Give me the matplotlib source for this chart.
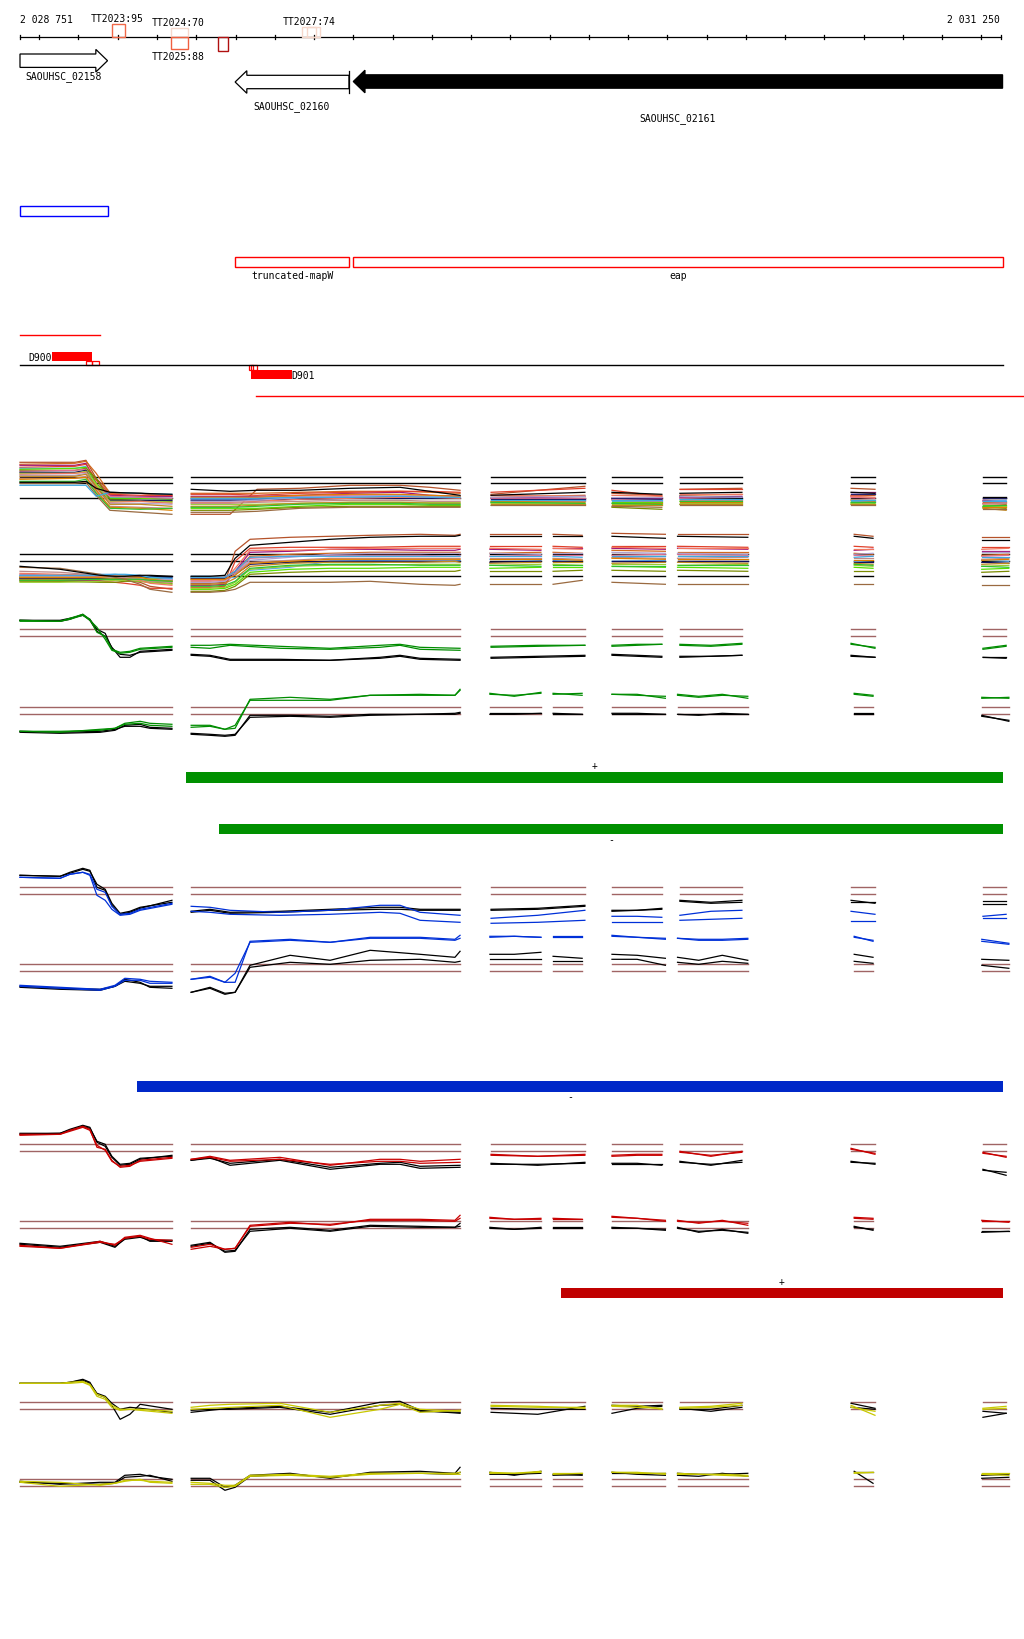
import numpy as np
import matplotlib
matplotlib.use('Agg')
import matplotlib.pyplot as plt
from matplotlib.patches import Rectangle, Polygon

# ---------------- region shown ----------------
START = 2028751
END = 2031250
TICK_POS = [START] + list(range(2028800, END, 100)) + [END]

# terminators: name, score, start, end, side, colour
TT_NAMES = ['TT2023:95', 'TT2024:70', 'TT2025:88', 'TT2027:74', 'TT2027:74', '']
TT_SCORES = [95, 70, 88, 74, 74, 100]
TT_START = [2028986, 2029136, 2029136, 2029469, 2029481, 2029255]
TT_END = [2029019, 2029178, 2029178, 2029504, 2029514, 2029280]
TT_SIDE = ['up', 'up', 'down', 'up', 'up', 'down']
TT_COLORS = ['#f06848', '#f6d8cc', '#f06040', '#f6d8cc', '#f6d8cc', '#b01010']

# genes: name, start, end, strand, filled
GENE_NAMES = ['SAOUHSC_02158', 'SAOUHSC_02160', 'SAOUHSC_02161']
GENE_START = [2028751, 2029299, 2029600]
GENE_END = [2028974, 2029589, 2031254]
GENE_STRAND = ['+', '-', '-']
GENE_FILLED = [False, False, True]

# annotation boxes
BLUE_BOX = (2028752, 2028974)
RED_BOX_NAMES = ['truncated-mapW', 'eap']
RED_BOX_START = [2029299, 2029600]
RED_BOX_END = [2029590, 2031255]

# deletions / small features
RED_LINE_TOP = (2028751, 2028954)
D900 = (2028833, 2028934)
D900_SMALL = [(2028918, 2028934), (2028934, 2028953)]
D901 = (2029339, 2029443)
D901_SMALL = [(2029335, 2029345), (2029339, 2029354)]
RED_LINE_BOTTOM = (2029352, 2031310)

# transcript bars: start, end, colour, strand
BAR_START = [2029174, 2029258, 2029049, 2030128]
BAR_END = [2031255, 2031255, 2031255, 2031255]
BAR_COLORS = ['#009000', '#009000', '#0028c8', '#c00000']
BAR_STRAND = ['+', '-', '-', '+']

# ---------------- probe knots (genomic positions) ----------------
MULTI_KNOTS_UP = {
    's1': [2028751, 2028891, 2028919, 2028945, 2028980, 2029057, 2029138],
    's2': [2029187, 2029286, 2029355, 2029464, 2029592, 2029719, 2029795, 2029872],
    's3': [2029951, 2030190],
    's4': [2030259, 2030386],
    's5': [2030432, 2030590],
    's6': [2030868, 2030929],
    's7': [2031204, 2031263],
}
MULTI_KNOTS_DN = {
    's1': [2028751, 2028853, 2028955, 2028993, 2029018, 2029057, 2029082, 2029138],
    's2': [2029187, 2029235, 2029273, 2029299, 2029337, 2029439, 2029541, 2029643, 2029770, 2029859, 2029872],
    's3a': [2029948, 2030078],
    's3b': [2030109, 2030183],
    's4': [2030259, 2030395],
    's5': [2030426, 2030605],
    's6': [2030876, 2030924],
    's7': [2031201, 2031270],
}
PAIR_KNOTS_UP = {
    's1': [2028751, 2028853, 2028878, 2028911, 2028929, 2028947, 2028968, 2028985, 2029006, 2029031, 2029057, 2029138],
    's2': [2029187, 2029235, 2029286, 2029413, 2029541, 2029668, 2029719, 2029770, 2029872],
    's3': [2029951, 2030070, 2030190],
    's4': [2030259, 2030323, 2030386],
    's5': [2030432, 2030511, 2030590],
    's6': [2030868, 2030929],
    's7': [2031204, 2031263],
}
PAIR_KNOTS_DN = {
    's1': [2028751, 2028853, 2028955, 2028993, 2029018, 2029057, 2029082, 2029138],
    's2': [2029187, 2029235, 2029273, 2029299, 2029337, 2029439, 2029541, 2029643, 2029770, 2029859, 2029872],
    's3a': [2029948, 2030010, 2030078],
    's3b': [2030109, 2030183],
    's4': [2030259, 2030323, 2030395],
    's5': [2030426, 2030480, 2030540, 2030605],
    's6': [2030876, 2030924],
    's7': [2031201, 2031270],
}

# ---------------- signal values (log ratio units) ----------------
MULTI_COLORS = ['#b5522a', '#d2691e', '#a0157a', '#e0402a', '#5aaaf0', '#55e000',
                '#7a8a00', '#e07090', '#101060', '#9acd32', '#f07860', '#b0a0d0',
                '#c08820', '#c08888', '#e08000', '#30c030', '#9a6a40', '#40a8e0']

A1_LINES = {
    's1': [[3.6, 3.6, 3.8, 2.0, 0.6, 0.5, 0.3], [3.4, 3.5, 3.7, 2.5, 0.5, 0.5, 0.2],
           [3.3, 3.3, 3.5, 1.5, 0.3, 0.2, 0.2], [3.1, 3.2, 3.4, 1.8, 0.4, 0.3, 0.3],
           [3.0, 3.0, 3.2, 1.0, 0.1, 0.1, 0.0], [2.9, 3.0, 3.1, 1.5, 0.0, 0.0, -0.1],
           [2.8, 2.8, 3.0, 2.0, -0.1, -0.2, -0.3], [2.7, 2.8, 2.9, 1.2, 0.2, 0.1, 0.0],
           [2.6, 2.6, 2.8, 1.0, -0.2, -0.2, -0.2], [2.5, 2.5, 2.7, 1.4, -0.3, -0.3, -0.4],
           [2.4, 2.5, 2.6, 1.0, -0.4, -0.3, -0.5], [2.3, 2.3, 2.5, 0.8, -0.5, -0.5, -0.6],
           [2.2, 2.2, 2.4, 1.2, -0.6, -0.6, -0.8], [2.0, 2.0, 2.2, 0.6, -0.8, -0.9, -1.0],
           [1.9, 2.0, 2.1, 0.8, -0.9, -1.0, -1.2], [1.7, 1.7, 1.9, 0.5, -1.0, -1.1, -1.0],
           [1.5, 1.5, 1.6, 0.3, -1.2, -1.4, -1.6], [1.3, 1.3, 1.3, 0.2, 0.6, 0.5, 0.4]],
    's2': [[-1.6, -1.6, 0.9, 1.0, 1.3, 1.3, 1.1, 0.8], [0.5, 0.5, 0.5, 0.6, 0.7, 0.7, 0.6, 0.5],
           [0.2, 0.2, 0.2, 0.3, 0.5, 0.6, 0.3, 0.2], [0.4, 0.4, 0.3, 0.5, 0.6, 0.7, 0.7, 0.6],
           [-0.1, -0.1, -0.1, 0.0, 0.1, 0.1, 0.0, 0.0], [-1.0, -1.0, -1.0, -0.8, -0.6, -0.6, -0.7, -0.7],
           [-1.2, -1.2, -1.1, -0.9, -0.8, -0.8, -0.8, -0.8], [0.0, 0.0, 0.1, 0.2, 0.3, 0.3, 0.2, 0.2],
           [-0.2, -0.2, -0.2, -0.1, 0.0, 0.0, 0.0, 0.0], [-0.6, -0.6, -0.6, -0.5, -0.4, -0.4, -0.4, -0.4],
           [-0.4, -0.4, -0.3, -0.1, 0.0, 0.1, 0.1, 0.0], [-0.3, -0.3, -0.2, 0.1, 0.2, 0.3, 0.2, 0.1],
           [-0.8, -0.8, -0.7, -0.5, -0.4, -0.4, -0.5, -0.5], [-0.5, -0.5, -0.4, -0.3, -0.2, -0.2, -0.3, -0.3],
           [0.1, 0.1, 0.1, 0.3, 0.4, 0.4, 0.3, 0.2], [-0.9, -0.9, -0.8, -0.6, -0.5, -0.5, -0.6, -0.6],
           [-1.4, -1.4, -1.3, -1.0, -0.9, -0.9, -0.9, -0.9], [0.0, 0.0, 0.0, 0.1, 0.1, 0.2, 0.1, 0.1]],
    's3': [[0.4, 1.2], [0.1, 0.3], [0.0, 0.2], [0.6, 1.0], [-0.2, -0.2], [-0.4, -0.5], [-0.7, -0.6],
           [0.0, 0.0], [-0.1, -0.1], [-0.5, -0.6], [0.3, 0.2], [0.1, 0.2], [-0.6, -0.6], [-0.3, -0.3],
           [-0.3, -0.4], [-0.4, -0.5], [-0.7, -0.7], [-0.2, -0.2]],
    's4': [[0.5, 0.3], [0.0, -0.1], [-0.1, 0.0], [0.8, 0.2], [-0.3, -0.3], [-0.4, -0.4], [-0.9, -1.1],
           [-0.1, -0.1], [0.0, -0.1], [-0.6, -0.6], [0.3, 0.2], [0.1, 0.1], [-0.7, -0.7], [-0.2, -0.3],
           [-0.5, -0.5], [-0.5, -0.6], [-0.8, -0.9], [-0.2, -0.2]],
    's5': [[0.9, 1.0], [0.3, 0.4], [0.1, 0.2], [0.9, 0.9], [-0.1, -0.2], [-0.3, -0.4], [-0.6, -0.7],
           [0.0, 0.1], [0.2, 0.1], [-0.5, -0.5], [0.4, 0.4], [0.2, 0.1], [-0.6, -0.6], [-0.2, -0.2],
           [-0.4, -0.4], [-0.3, -0.3], [-0.7, -0.7], [-0.1, -0.1]],
    's6': [[1.0, 0.9], [0.2, 0.3], [0.6, 0.6], [0.3, 0.4], [-0.3, -0.3], [-0.4, -0.5], [-0.6, -0.7],
           [0.1, 0.0], [0.4, 0.4], [-0.5, -0.6], [0.2, 0.1], [0.5, 0.5], [-0.6, -0.6], [-0.1, -0.2],
           [-0.2, -0.3], [-0.4, -0.4], [-0.7, -0.7], [-0.2, -0.2]],
    's7': [[0.0, 0.0], [-0.4, -0.4], [-0.2, -0.3], [-0.5, -0.6], [-0.3, -0.2], [-0.7, -0.7], [-0.9, -1.0],
           [-0.3, -0.4], [0.0, 0.0], [-0.8, -0.8], [-0.5, -0.5], [0.1, 0.1], [-1.0, -1.2], [-0.6, -0.5],
           [-0.9, -0.9], [-0.8, -0.7], [-1.1, -1.1], [-0.3, -0.3]],
}
A1_BLACK = {
    's1': [1.6, 1.6, 1.7, 1.0, 0.6, 0.5, 0.4],
    's2': [0.9, 0.7, 0.8, 0.8, 1.0, 1.1, 0.7, 0.3],
    's3': [0.3, 0.6], 's4': [0.6, 0.4], 's5': [0.5, 0.6], 's6': [0.6, 0.5], 's7': [0.1, 0.1],
}

A2_LINES = {
    's1': [[-0.2, -0.2, -0.3, -0.3, -0.4, -0.6, -1.0, -1.3], [0.0, 0.0, -0.1, -0.2, -0.2, -0.3, -0.3, -0.5],
           [-0.3, -0.4, -0.4, -0.3, -0.3, -0.2, -0.2, -0.3], [-0.4, -0.5, -0.5, -0.6, -0.7, -0.9, -1.2, -1.2],
           [0.1, 0.0, 0.2, 0.2, 0.1, 0.0, -0.1, -0.2], [-0.1, -0.1, -0.2, -0.1, -0.1, -0.1, -0.2, -0.4],
           [-0.5, -0.5, -0.6, -0.6, -0.5, -0.5, -0.6, -0.7], [0.2, 0.1, 0.0, 0.0, -0.1, -0.2, -0.3, -0.4],
           [-0.2, -0.2, -0.2, -0.2, -0.1, 0.0, -0.1, -0.1], [-0.6, -0.6, -0.5, -0.4, -0.4, -0.5, -0.6, -0.8],
           [0.3, 0.2, 0.1, 0.0, -0.2, -0.4, -0.7, -0.9], [0.0, 0.0, -0.1, -0.1, -0.2, -0.2, -0.3, -0.3],
           [-0.3, -0.3, -0.3, -0.2, -0.2, -0.3, -0.4, -0.5], [0.5, 0.4, 0.1, 0.0, -0.1, -0.3, -0.5, -0.6],
           [-0.1, -0.1, -0.1, 0.0, 0.0, -0.1, -0.3, -0.5], [-0.4, -0.4, -0.3, -0.3, -0.3, -0.3, -0.4, -0.5],
           [0.9, 0.8, 0.2, -0.1, -0.3, -0.8, -1.3, -1.6], [0.1, 0.1, 0.1, 0.2, 0.2, 0.1, -0.1, -0.2]],
    's2': [[-0.7, -0.7, -0.6, 2.5, 3.7, 3.9, 4.0, 4.1, 4.2, 4.1, 4.2],
           [-0.3, -0.3, -0.2, 0.5, 2.0, 2.2, 2.3, 2.4, 2.4, 2.4, 2.4],
           [-0.9, -0.9, -0.8, 0.5, 2.4, 2.5, 2.7, 2.7, 2.6, 2.6, 2.7],
           [-1.1, -1.1, -1.0, 1.5, 2.8, 2.9, 2.9, 2.9, 3.0, 3.0, 3.0],
           [0.0, 0.0, -0.2, -0.1, 0.6, 0.9, 1.5, 1.6, 1.5, 1.5, 1.6],
           [-1.3, -1.3, -1.2, -0.8, 0.4, 0.7, 0.8, 0.8, 0.9, 0.9, 0.9],
           [-1.5, -1.5, -1.4, -1.0, 0.2, 0.4, 0.5, 0.5, 0.5, 0.5, 0.6],
           [-0.4, -0.4, -0.3, 0.3, 1.8, 2.0, 2.1, 2.1, 2.1, 2.0, 2.1],
           [-0.2, -0.2, -0.2, 0.2, 1.2, 1.4, 1.5, 1.5, 1.5, 1.5, 1.5],
           [-1.2, -1.2, -1.1, -0.6, 0.7, 1.0, 1.1, 1.1, 1.2, 1.2, 1.2],
           [-0.5, -0.5, -0.4, 0.8, 2.6, 2.6, 2.7, 2.8, 2.8, 2.8, 2.8],
           [-0.6, -0.6, -0.5, 0.2, 1.6, 1.9, 2.2, 2.3, 2.3, 2.3, 2.3],
           [-0.8, -0.8, -0.7, -0.2, 1.0, 1.3, 1.4, 1.4, 1.4, 1.5, 1.4],
           [-0.1, -0.1, 0.0, 0.3, 1.4, 1.6, 1.8, 1.8, 1.8, 1.8, 1.8],
           [-0.3, -0.3, -0.3, 0.1, 1.3, 1.5, 1.7, 1.7, 1.7, 1.7, 1.7],
           [-1.0, -1.0, -0.9, -0.5, 0.8, 1.1, 1.2, 1.2, 1.1, 1.1, 1.1],
           [-1.6, -1.6, -1.5, -1.3, -0.6, -0.6, -0.6, -0.5, -0.8, -0.9, -0.8],
           [-0.1, -0.1, -0.1, 0.5, 1.9, 2.0, 2.0, 2.0, 2.0, 2.0, 2.0]],
    's3a': [[4.2, 4.2], [2.3, 2.4], [2.7, 2.6], [3.0, 3.0], [1.7, 1.6], [0.8, 0.9], [0.5, 0.5], [2.0, 2.1],
            [1.4, 1.5], [1.1, 1.2], [2.8, 2.7], [2.3, 2.2], [1.3, 1.4], [1.8, 1.8], [1.7, 1.7], [1.1, 1.0],
            [-0.8, -0.8], [2.0, 2.0]],
    's3b': [[4.2, 4.1], [2.4, 2.3], [2.8, 2.8], [3.0, 2.9], [1.6, 1.6], [0.9, 0.9], [0.5, 0.6], [2.1, 2.1],
            [1.5, 1.4], [1.2, 1.1], [2.8, 2.7], [2.3, 2.3], [1.4, 1.4], [1.8, 1.7], [1.7, 1.6], [1.1, 1.1],
            [-0.8, -0.4], [2.0, 1.9]],
    's4': [[4.3, 4.2], [2.6, 2.5], [2.8, 2.7], [3.0, 3.0], [1.5, 1.6], [1.0, 0.9], [0.6, 0.5], [2.1, 2.2],
           [1.5, 1.5], [1.2, 1.2], [2.9, 2.8], [2.4, 2.3], [1.3, 1.4], [1.9, 1.8], [1.8, 1.7], [1.0, 1.0],
           [-0.6, -0.8], [2.0, 2.0]],
    's5': [[4.2, 4.2], [2.4, 2.4], [2.8, 2.7], [3.0, 2.9], [1.7, 1.7], [0.9, 0.8], [0.6, 0.5], [2.2, 2.1],
           [1.5, 1.5], [1.1, 1.2], [2.8, 2.8], [2.3, 2.2], [1.4, 1.3], [1.8, 1.9], [1.7, 1.7], [1.1, 1.1],
           [-0.8, -0.8], [2.0, 2.0]],
    's6': [[4.2, 4.0], [2.3, 2.2], [2.6, 2.7], [3.0, 2.9], [1.5, 1.4], [0.9, 0.8], [0.5, 0.5], [2.1, 2.0],
           [1.4, 1.4], [1.1, 1.0], [2.7, 2.7], [2.2, 2.3], [1.3, 1.2], [1.8, 1.8], [1.6, 1.6], [1.2, 1.1],
           [-0.8, -0.8], [1.9, 2.0]],
    's7': [[3.9, 3.9], [2.1, 2.2], [2.5, 2.5], [2.9, 2.9], [1.6, 1.5], [0.7, 0.8], [0.4, 0.5], [2.0, 2.1],
           [1.4, 1.3], [1.0, 1.1], [2.7, 2.8], [2.4, 2.4], [1.2, 1.3], [1.7, 1.8], [1.6, 1.7], [1.0, 0.9],
           [-0.9, -0.9], [1.9, 1.9]],
}
A2_BLACK = {
    's1': [1.0, 0.7, 0.1, 0.0, 0.0, 0.1, 0.1, 0.0],
    's2': [0.0, 0.0, 0.1, 1.8, 3.1, 3.4, 3.7, 3.9, 4.0, 4.0, 4.1],
    's3a': [4.0, 4.0], 's3b': [4.0, 4.0], 's4': [4.0, 3.8], 's5': [4.0, 3.9],
    's6': [4.0, 3.8], 's7': [3.6, 3.6],
}

# two-colour comparisons (colour lines, black lines)
B1_COLOR = {
    's1': [[1.6, 1.5, 1.8, 2.2, 1.7, 0.4, 0.0, -1.3, -1.6, -1.5, -1.2, -1.0],
           [1.5, 1.5, 1.7, 2.1, 1.6, 0.9, -0.3, -1.4, -1.7, -1.6, -1.3, -1.1]],
    's2': [[-0.9, -0.9, -0.8, -1.0, -1.2, -0.9, -0.8, -1.1, -1.2],
           [-1.1, -1.2, -0.9, -1.2, -1.3, -1.1, -0.9, -1.3, -1.4]],
    's3': [[-1.0, -0.9, -0.9], [-1.1, -1.0, -0.9]],
    's4': [[-0.9, -0.8, -0.8], [-1.0, -0.9, -0.8]],
    's5': [[-0.8, -0.9, -0.7], [-0.9, -1.0, -0.8]],
    's6': [[-0.7, -1.2], [-0.8, -1.1]],
    's7': [[-1.2, -0.9], [-1.3, -1.0]],
}
B1_BLACK = {
    's1': [[1.6, 1.5, 1.7, 2.2, 1.6, 0.5, 0.0, -1.1, -2.1, -2.1, -1.5, -1.3],
           [1.6, 1.6, 1.8, 2.1, 1.7, 0.7, 0.3, -1.2, -1.8, -1.9, -1.6, -1.4]],
    's2': [[-1.8, -1.9, -2.3, -2.3, -2.4, -2.1, -1.9, -2.2, -2.3],
           [-1.9, -2.0, -2.4, -2.4, -2.4, -2.2, -2.0, -2.3, -2.4]],
    's3': [[-2.1, -2.0, -1.9], [-2.2, -2.1, -2.0]],
    's4': [[-1.8, -1.9, -2.0], [-1.9, -2.0, -2.1]],
    's5': [[-2.0, -2.0, -1.9], [-2.1, -2.0, -1.9]],
    's6': [[-1.9, -2.1], [-2.0, -2.1]],
    's7': [[-2.1, -2.1], [-2.1, -2.2]],
}
B2_COLOR = {
    's1': [[-1.7, -1.8, -1.5, -1.4, -0.9, -0.7, -0.9, -1.0], [-1.7, -1.7, -1.6, -1.4, -1.0, -0.9, -1.1, -1.2]],
    's2': [[-1.1, -1.1, -1.5, -1.4, 1.5, 1.7, 1.5, 1.9, 2.0, 1.9, 2.5],
           [-1.3, -1.2, -1.5, -1.1, 1.4, 1.4, 1.4, 1.9, 1.9, 1.9, 2.4]],
    's3a': [[2.1, 1.8, 2.2], [2.0, 1.9, 2.1]],
    's3b': [[2.1, 1.9], [2.0, 2.1]],
    's4': [[2.0, 2.0, 1.6], [2.0, 1.9, 1.8]],
    's5': [[2.0, 1.8, 2.0, 1.6], [1.9, 1.7, 1.9, 1.8]],
    's6': [[2.1, 1.9], [2.0, 1.8]],
    's7': [[1.7, 1.6], [1.6, 1.7]],
}
B2_BLACK = {
    's1': [[-1.8, -1.9, -1.8, -1.6, -1.1, -1.0, -1.3, -1.4], [-1.7, -1.8, -1.7, -1.5, -1.2, -1.2, -1.4, -1.5]],
    's2': [[-2.0, -2.1, -2.2, -2.1, -0.1, -0.1, -0.2, 0.0, 0.0, 0.1, 0.2],
           [-1.9, -2.0, -2.1, -2.0, -0.3, -0.2, -0.3, -0.1, 0.0, 0.0, 0.1]],
    's3a': [[0.1, 0.1, 0.1], [0.0, 0.0, 0.1]],
    's3b': [[0.1, 0.0], [0.0, 0.0]],
    's4': [[0.1, 0.1, 0.0], [0.0, 0.0, 0.0]],
    's5': [[0.0, -0.1, 0.1, 0.0], [0.0, 0.0, 0.0, 0.0]],
    's6': [[0.1, 0.1], [0.0, 0.0]],
    's7': [[-0.1, -0.7], [-0.2, -0.6]],
}
C1_COLOR = {
    's1': [[1.7, 1.6, 2.0, 2.2, 1.9, -0.1, -0.6, -1.5, -2.1, -2.0, -1.6, -1.0],
           [1.7, 1.6, 2.0, 2.2, 2.0, 0.5, 0.2, -1.2, -2.0, -1.9, -1.5, -0.9]],
    's2': [[-1.2, -1.3, -1.6, -1.8, -1.6, -1.1, -1.1, -1.8, -2.1],
           [-1.7, -1.8, -2.0, -2.1, -2.0, -1.8, -1.9, -2.6, -2.8]],
    's3': [[-2.4, -2.1, -1.6], [-2.9, -2.8, -2.6]],
    's4': [[-2.2, -2.2, -2.3], [-2.8, -2.8, -2.8]],
    's5': [[-2.1, -1.7, -1.6], [-2.6, -2.5, -2.4]],
    's6': [[-1.7, -2.0], [-2.7, -2.7]],
    's7': [[-2.2, -2.0], [-2.4, -2.4]],
}
C1_BLACK = {
    's1': [[1.9, 1.8, 2.2, 2.6, 2.4, 0.7, 0.4, -1.1, -2.0, -1.8, -1.4, -0.6],
           [1.9, 1.8, 2.1, 2.5, 2.3, 1.0, 0.5, -0.9, -1.9, -1.7, -1.3, -0.8]],
    's2': [[-1.7, -1.5, -1.8, -1.7, -1.5, -1.3, -1.3, -1.5, -1.5],
           [-1.8, -1.6, -1.9, -1.8, -1.6, -1.5, -1.5, -1.6, -1.6]],
    's3': [[-1.5, -1.4, -1.1], [-1.6, -1.5, -1.2]],
    's4': [[-1.6, -1.6, -1.4], [-1.7, -1.6, -1.5]],
    's5': [[-0.6, -0.8, -0.6], [-0.7, -0.9, -0.8]],
    's6': [[-0.6, -0.9], [-0.8, -0.8]],
    's7': [[-0.7, -0.7], [-1.0, -1.0]],
}
C2_COLOR = {
    's1': [[-1.4, -1.6, -1.8, -1.4, -0.7, -0.8, -1.0, -1.1], [-1.5, -1.7, -1.9, -1.5, -0.9, -0.9, -1.2, -1.2]],
    's2': [[-0.8, -0.5, -1.1, -1.1, 3.0, 3.2, 2.9, 3.4, 3.4, 3.2, 3.6],
           [-0.8, -0.6, -1.1, -0.2, 2.9, 3.1, 2.9, 3.3, 3.3, 3.1, 3.3]],
    's3a': [[3.5, 3.5, 3.4], [3.4, 3.5, 3.4]],
    's3b': [[3.5, 3.5], [3.4, 3.4]],
    's4': [[3.6, 3.4, 3.3], [3.5, 3.4, 3.2]],
    's5': [[3.3, 3.2, 3.2, 3.3], [3.3, 3.1, 3.1, 3.2]],
    's6': [[3.5, 3.0], [3.4, 3.1]],
    's7': [[3.2, 2.8], [3.0, 2.7]],
}
C2_BLACK = {
    's1': [[-1.6, -1.8, -1.9, -1.5, -0.8, -1.1, -1.6, -1.7], [-1.5, -1.7, -1.8, -1.5, -1.0, -1.2, -1.5, -1.5]],
    's2': [[-2.1, -1.6, -2.2, -2.1, 0.6, 1.6, 1.1, 2.1, 1.7, 1.4, 2.0],
           [-2.1, -1.7, -2.3, -2.1, 0.4, 0.9, 0.7, 1.1, 1.2, 0.9, 1.0]],
    's3a': [[1.7, 1.7, 1.9], [1.2, 1.2, 1.2]],
    's3b': [[1.5, 1.3], [1.0, 1.0]],
    's4': [[1.7, 1.6, 1.3], [1.2, 1.2, 0.6]],
    's5': [[1.4, 1.1, 1.6, 1.1], [0.9, 0.7, 1.0, 0.8]],
    's6': [[1.7, 1.4], [1.0, 0.8]],
    's7': [[1.2, 1.1], [0.6, 0.3]],
}
D1_COLOR = {
    's1': [[1.7, 1.7, 2.1, 2.5, 2.2, 0.4, 0.2, -0.9, -1.6, -1.5, -0.9, -0.6],
           [1.6, 1.7, 2.0, 2.4, 2.1, 0.6, 0.1, -1.0, -1.5, -1.4, -1.0, -0.7]],
    's2': [[-0.8, -0.5, -0.9, -0.6, -1.4, -0.8, -0.8, -1.0, -0.8],
           [-0.8, -0.6, -1.0, -0.8, -1.3, -1.0, -1.0, -1.2, -1.1]],
    's3': [[-0.3, -0.5, -0.3], [-0.4, -0.5, -0.4]],
    's4': [[-0.4, -0.3, -0.3], [-0.5, -0.4, -0.4]],
    's5': [[0.0, -0.5, 0.0], [-0.1, -0.4, -0.1]],
    's6': [[0.3, -0.3], [0.2, -0.2]],
    's7': [[-0.1, -0.6], [-0.2, -0.5]],
}
D1_BLACK = {
    's1': [[1.8, 1.8, 2.2, 2.6, 2.4, 0.9, 0.5, -0.6, -1.4, -1.3, -0.8, -0.4],
           [1.7, 1.8, 2.1, 2.5, 2.3, 1.0, 0.7, -0.5, -1.3, -1.2, -0.7, -0.5]],
    's2': [[-0.9, -0.6, -1.4, -0.9, -1.8, -1.3, -1.3, -1.7, -1.6],
           [-0.9, -0.7, -1.2, -0.8, -1.6, -1.2, -1.1, -1.5, -1.4]],
    's3': [[-1.2, -1.4, -1.1], [-1.3, -1.3, -1.2]],
    's4': [[-1.2, -1.2, -1.4], [-1.3, -1.3, -1.3]],
    's5': [[-1.0, -1.4, -0.9], [-1.1, -1.3, -1.1]],
    's6': [[-1.0, -1.3], [-1.1, -1.2]],
    's7': [[-1.8, -2.4], [-1.9, -2.1]],
}
D2_COLOR = {
    's1': [[-1.7, -2.0, -1.3, -1.7, -0.9, -0.7, -1.0, -1.6], [-1.8, -2.0, -1.4, -1.6, -1.0, -0.8, -1.1, -1.2]],
    's2': [[-1.9, -1.6, -2.1, -2.0, 0.3, 0.6, 0.3, 0.9, 0.9, 0.8, 1.3],
           [-2.1, -1.8, -2.1, -2.0, 0.2, 0.5, 0.4, 0.8, 0.8, 0.7, 1.0]],
    's3a': [[1.1, 0.9, 1.0], [1.0, 0.9, 0.9]],
    's3b': [[1.0, 0.9], [0.9, 0.9]],
    's4': [[1.2, 1.0, 0.7], [1.1, 1.0, 0.8]],
    's5': [[0.8, 0.5, 0.8, 0.3], [0.7, 0.6, 0.7, 0.5]],
    's6': [[1.1, 1.0], [1.0, 0.9]],
    's7': [[0.8, 0.6], [0.7, 0.7]],
}
D2_BLACK = {
    's1': [[-1.6, -1.9, -1.4, -1.9, -1.0, -0.8, -1.3, -1.3], [-1.5, -1.8, -1.3, -1.8, -1.1, -0.9, -1.2, -1.2]],
    's2': [[-1.7, -1.4, -2.4, -2.3, -0.1, 0.1, -0.2, 0.3, 0.2, 0.1, 0.5],
           [-1.8, -1.5, -2.3, -2.2, -0.3, 0.0, -0.3, 0.2, 0.1, 0.1, 0.2]],
    's3a': [[0.1, -0.1, 0.1], [0.0, -0.1, 0.0]],
    's3b': [[0.1, 0.1], [0.0, 0.0]],
    's4': [[0.1, 0.0, -0.1], [0.0, 0.0, -0.2]],
    's5': [[0.1, -0.4, -0.1, -0.5], [0.0, -0.3, -0.2, -0.4]],
    's6': [[0.2, -0.2], [0.1, -0.1]],
    's7': [[-0.3, -0.3], [-0.4, -0.3]],
}
E1_COLOR = {
    's1': [[2.6, 2.6, 2.7, 2.8, 2.5, 1.5, 1.2, 0.4, 0.0, 0.0, -0.1, -0.4],
           [2.6, 2.6, 2.6, 2.7, 2.4, 1.3, 1.0, 0.2, -0.1, 0.0, 0.0, -0.2]],
    's2': [[0.2, 0.4, 0.5, 0.6, -0.3, 0.4, 0.6, 0.0, -0.2],
           [0.0, 0.1, 0.2, 0.4, -0.8, 0.0, 0.5, -0.3, -0.1]],
    's3': [[0.4, 0.3, 0.1], [0.3, 0.2, 0.2]],
    's4': [[0.4, 0.4, 0.0], [0.3, 0.2, 0.1]],
    's5': [[0.2, 0.3, 0.6], [0.1, 0.2, 0.4]],
    's6': [[0.4, -0.6], [0.2, -0.2]],
    's7': [[0.0, 0.1], [0.1, 0.3]],
}
E1_BLACK = {
    's1': [[2.6, 2.6, 2.7, 3.0, 2.7, 1.5, 1.2, 0.4, -1.0, -0.5, 0.5, 0.0],
           [2.6, 2.6, 2.7, 2.9, 2.6, 1.6, 1.3, 0.6, 0.0, 0.2, 0.1, -0.3]],
    's2': [[-0.3, -0.1, 0.1, 0.3, -0.3, 0.7, 0.8, -0.1, -0.4],
           [-0.1, 0.0, 0.0, 0.2, -0.5, 0.4, 0.5, -0.2, -0.3]],
    's3': [[-0.3, -0.5, 0.3], [0.1, 0.0, 0.0]],
    's4': [[-0.4, 0.1, 0.3], [0.4, 0.3, 0.4]],
    's5': [[0.1, -0.2, 0.2], [0.0, 0.0, 0.4]],
    's6': [[0.6, 0.1], [0.2, 0.0]],
    's7': [[-0.8, -0.4], [-0.2, -0.4]],
}
E2_COLOR = {
    's1': [[0.4, 0.0, 0.2, 0.3, 0.6, 0.6, 0.5, 0.4], [0.5, 0.4, 0.1, 0.3, 0.5, 0.7, 0.4, 0.3]],
    's2': [[0.4, 0.3, 0.1, 0.1, 1.1, 1.2, 1.0, 1.3, 1.3, 1.3, 1.4],
           [0.2, 0.2, -0.1, 0.0, 1.0, 1.1, 0.9, 1.2, 1.3, 1.2, 1.2]],
    's3a': [[1.4, 1.3, 1.5], [1.3, 1.3, 1.4]],
    's3b': [[1.3, 1.3], [1.2, 1.3]],
    's4': [[1.4, 1.4, 1.2], [1.4, 1.3, 1.3]],
    's5': [[1.3, 1.2, 1.1, 1.0], [1.2, 1.2, 1.2, 1.1]],
    's6': [[1.4, 1.4], [1.3, 1.4]],
    's7': [[1.3, 1.3], [1.2, 1.1]],
}
E2_BLACK = {
    's1': [[0.5, 0.2, 0.4, 0.4, 1.1, 1.2, 1.0, 0.7], [0.4, 0.3, 0.2, 0.3, 0.9, 1.0, 1.1, 0.5]],
    's2': [[0.8, 0.8, -0.1, 0.1, 1.1, 1.3, 0.8, 1.4, 1.5, 1.3, 1.9],
           [0.6, 0.6, -0.4, -0.1, 1.0, 1.2, 0.9, 1.3, 1.3, 1.2, 1.4]],
    's3a': [[1.4, 1.1, 1.5], [1.2, 1.2, 1.3]],
    's3b': [[1.1, 1.2], [1.2, 1.1]],
    's4': [[1.4, 1.2, 1.1], [1.3, 1.3, 1.3]],
    's5': [[1.1, 1.0, 1.3, 1.0], [1.3, 1.2, 1.2, 1.3]],
    's6': [[1.5, 0.3], [1.4, 1.4]],
    's7': [[0.8, 0.9], [1.1, 1.2]],
}

# ---------------- layout (pixels) ----------------
W, H = 1024, 1640
X0_PX, X1_PX = 20, 1001
BP_PER_PX = (END - START) / (X1_PX - X0_PX)
XMIN = START - X0_PX * BP_PER_PX
XMAX = XMIN + W * BP_PER_PX
SCALE = 10.0  # pixels per signal unit
AXIS_Y = 38.3
BROWN = '#a06464'
FONT = dict(family='DejaVu Sans Mono', fontsize=7, color='black')


def px(xp):
    return XMIN + xp * BP_PER_PX


fig = plt.figure(figsize=(W / 100, H / 100), dpi=100)
ax = fig.add_axes([0, 0, 1, 1])
ax.set_xlim(XMIN, XMAX)
ax.set_ylim(H, 0)
ax.axis('off')

# coordinate ruler
ax.plot([START, END], [AXIS_Y, AXIS_Y], color='black', lw=0.9)
for t in TICK_POS:
    ax.plot([t, t], [AXIS_Y - 2, AXIS_Y + 2], color='black', lw=0.9)
ax.text(START, 20, '2 028 751', ha='left', va='center', **FONT)
ax.text(px(1000), 20, '2 031 250', ha='right', va='center', **FONT)

# terminators
for s, e, sc, side, c in zip(TT_START, TT_END, TT_SCORES, TT_SIDE, TT_COLORS):
    h = sc * 0.135
    y0 = AXIS_Y - h if side == 'up' else AXIS_Y
    ax.add_patch(Rectangle((s, y0), e - s, h, fill=False, edgecolor=c, lw=1.0, zorder=3))
tt_label_pos = [(91, 19), (152, 23), (152, 57), (283, 22)]
for name, (lx, ly) in zip(TT_NAMES[:4], tt_label_pos):
    ax.text(px(lx), ly, name, ha='left', va='center', **FONT)

# genes
gene_rows = [(61.7, 76.7), (83, 106.7), (82.5, 118.3)]
for name, s, e, strand, filled, (yc, ly) in zip(GENE_NAMES, GENE_START, GENE_END,
                                                 GENE_STRAND, GENE_FILLED, gene_rows):
    head = 11.7 * BP_PER_PX if filled or strand == '-' else 11.7 * BP_PER_PX
    bh, hh = 6.7, 11.3
    if strand == '+':
        pts = [(s, yc - bh), (e - head, yc - bh), (e - head, yc - hh), (e, yc),
               (e - head, yc + hh), (e - head, yc + bh), (s, yc + bh)]
    else:
        pts = [(e, yc - bh), (s + head, yc - bh), (s + head, yc - hh), (s, yc),
               (s + head, yc + hh), (s + head, yc + bh), (e, yc + bh)]
    ax.add_patch(Polygon(pts, closed=True, facecolor='black' if filled else 'white',
                         edgecolor='black', lw=0.9, zorder=3))
    if strand == '-' and not filled:
        ax.plot([e, e], [yc - hh, yc + hh], color='black', lw=0.9, zorder=3)
    ax.text((s + e) / 2, ly, name, ha='center', va='center', **FONT)

# annotation boxes
ax.add_patch(Rectangle((BLUE_BOX[0], 207.3), BLUE_BOX[1] - BLUE_BOX[0], 10,
                       fill=False, edgecolor='#0000ff', lw=1.0))
for name, s, e in zip(RED_BOX_NAMES, RED_BOX_START, RED_BOX_END):
    ax.add_patch(Rectangle((s, 258.3), e - s, 10, fill=False, edgecolor='#ff0000', lw=1.0))
    ax.text((s + e) / 2, 275.7, name, ha='center', va='center', **FONT)

# deletion track
ax.plot(RED_LINE_TOP, [336, 336], color='#ff0000', lw=1.0)
ax.plot([START, 2031255], [366, 366], color='black', lw=1.0)
ax.add_patch(Rectangle((D900[0], 353), D900[1] - D900[0], 8.7, color='#ff0000', lw=0))
for s, e in D900_SMALL:
    ax.add_patch(Rectangle((s, 362), e - s, 4.3, fill=False, edgecolor='#ff0000', lw=0.9))
ax.text(D900[0], 357.7, 'D900', ha='right', va='center', **FONT)
ax.add_patch(Rectangle((D901[0], 371), D901[1] - D901[0], 8.7, color='#ff0000', lw=0))
for s, e in D901_SMALL:
    ax.add_patch(Rectangle((s, 366), e - s, 4.5, fill=False, edgecolor='#ff0000', lw=0.9))
ax.text(D901[1], 376, 'D901', ha='left', va='center', **FONT)
ax.plot(RED_LINE_BOTTOM, [397.3, 397.3], color='#ff0000', lw=1.0)

# transcript bars
bar_y = [778.3, 830, 1087.5, 1293.8]
for s, e, c, st, yc in zip(BAR_START, BAR_END, BAR_COLORS, BAR_STRAND, bar_y):
    ax.add_patch(Rectangle((s, yc - 5.3), e - s, 10.6, color=c, lw=0))
    ly = yc - 12 if st == '+' else yc + 10
    ax.text((s + e) / 2, ly, st, ha='center', va='center', **FONT)


def to_y(base, vals):
    return base - np.asarray(vals) * SCALE


# multi-condition rows
multi_rows = [(A1_LINES, A1_BLACK, MULTI_KNOTS_UP, 499.3, [2.1, 1.5, 0.0]),
              (A2_LINES, A2_BLACK, MULTI_KNOTS_DN, 577.3, [2.2, 1.5, 0.0])]
for lines, black, knots, base, refs in multi_rows:
    for seg, xs in knots.items():
        for r in refs:
            ax.plot([xs[0], xs[-1]], [base - r * SCALE] * 2, color='black', lw=1.0, zorder=2)
        for i, vals in enumerate(lines[seg]):
            ax.plot(xs, to_y(base, vals), color=MULTI_COLORS[i], lw=0.9, zorder=3)
        ax.plot(xs, to_y(base, black[seg]), color='black', lw=0.9, zorder=3)

# paired rows
pair_rows = [(B1_COLOR, B1_BLACK, PAIR_KNOTS_UP, 637.3, '#008c00'),
             (B2_COLOR, B2_BLACK, PAIR_KNOTS_DN, 715.3, '#008c00'),
             (C1_COLOR, C1_BLACK, PAIR_KNOTS_UP, 895.3, '#0030d8'),
             (C2_COLOR, C2_BLACK, PAIR_KNOTS_DN, 972.3, '#0030d8'),
             (D1_COLOR, D1_BLACK, PAIR_KNOTS_UP, 1152.3, '#c80000'),
             (D2_COLOR, D2_BLACK, PAIR_KNOTS_DN, 1229.3, '#c80000'),
             (E1_COLOR, E1_BLACK, PAIR_KNOTS_UP, 1410.3, '#c8c800'),
             (E2_COLOR, E2_BLACK, PAIR_KNOTS_DN, 1487.3, '#c8c800')]
for col_lines, blk_lines, knots, base, c in pair_rows:
    for seg, xs in knots.items():
        for r in (0.7, 0.0):
            ax.plot([xs[0], xs[-1]], [base - r * SCALE] * 2, color=BROWN, lw=1.0, zorder=2)
        for vals in blk_lines[seg]:
            ax.plot(xs, to_y(base, vals), color='black', lw=0.9, zorder=3)
        for vals in col_lines[seg]:
            ax.plot(xs, to_y(base, vals), color=c, lw=0.9, zorder=4)

fig.savefig('out.png', dpi=100)
